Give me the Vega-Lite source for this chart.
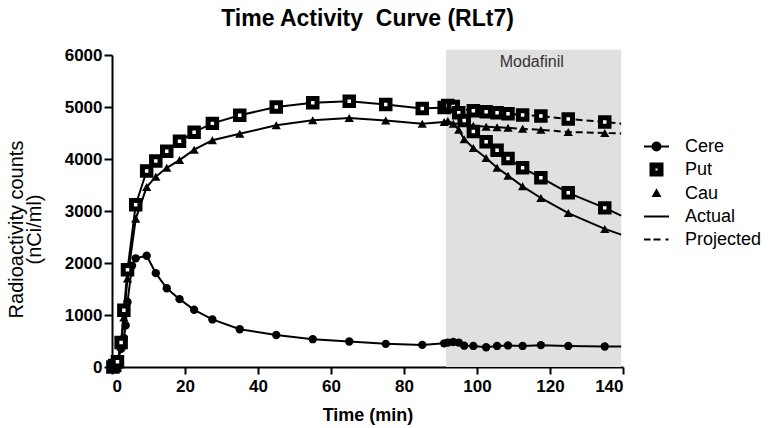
{
  "$schema": "https://vega.github.io/schema/vega-lite/v6.json",
  "autosize": "none",
  "padding": {"left": 112, "top": 55, "right": 146, "bottom": 61},
  "width": 511,
  "height": 312,
  "background": "white",
  "title": {"text": "Time Activity\u00a0 Curve (RLt7)", "font": "Liberation Sans", "fontSize": 23, "fontWeight": "bold", "color": "black", "anchor": "middle", "offset": 15},
  "config": {
    "view": {"stroke": null},
    "axis": {"domainColor": "black", "domainWidth": 2, "tickColor": "black", "tickWidth": 2, "labelColor": "black", "titleColor": "black", "labelFont": "Liberation Sans", "titleFont": "Liberation Sans", "labelFontWeight": "bold", "labelFontSize": 17, "grid": false},
    "legend": {"title": null, "orient": "none", "legendX": 531, "legendY": 78, "padding": 0, "symbolSize": 625, "symbolStrokeWidth": 2, "symbolOpacity": 1, "labelFont": "Liberation Sans", "labelFontSize": 18, "labelColor": "black", "labelOffset": 15, "rowPadding": 0}
  },
  "datasets": {
    "curves": [
      {"region":"Cere","series":"Actual","time":0.25,"value":0,"marker":1},
      {"region":"Cere","series":"Actual","time":0.75,"value":30,"marker":1},
      {"region":"Cere","series":"Actual","time":1.5,"value":110,"marker":1},
      {"region":"Cere","series":"Actual","time":2.5,"value":350,"marker":1},
      {"region":"Cere","series":"Actual","time":3.25,"value":560,"marker":1},
      {"region":"Cere","series":"Actual","time":3.75,"value":800,"marker":1},
      {"region":"Cere","series":"Actual","time":4.25,"value":1250,"marker":1},
      {"region":"Cere","series":"Actual","time":5.5,"value":1950,"marker":1},
      {"region":"Cere","series":"Actual","time":6.5,"value":2090,"marker":1},
      {"region":"Cere","series":"Actual","time":9.5,"value":2140,"marker":1},
      {"region":"Cere","series":"Actual","time":12,"value":1805,"marker":1},
      {"region":"Cere","series":"Actual","time":15,"value":1515,"marker":1},
      {"region":"Cere","series":"Actual","time":18.5,"value":1305,"marker":1},
      {"region":"Cere","series":"Actual","time":22.5,"value":1100,"marker":1},
      {"region":"Cere","series":"Actual","time":27.5,"value":915,"marker":1},
      {"region":"Cere","series":"Actual","time":35,"value":725,"marker":1},
      {"region":"Cere","series":"Actual","time":45,"value":615,"marker":1},
      {"region":"Cere","series":"Actual","time":55,"value":535,"marker":1},
      {"region":"Cere","series":"Actual","time":65,"value":490,"marker":1},
      {"region":"Cere","series":"Actual","time":75,"value":445,"marker":1},
      {"region":"Cere","series":"Actual","time":85,"value":425,"marker":1},
      {"region":"Cere","series":"Actual","time":91,"value":455,"marker":1},
      {"region":"Cere","series":"Actual","time":92,"value":470,"marker":1},
      {"region":"Cere","series":"Actual","time":93.5,"value":480,"marker":1},
      {"region":"Cere","series":"Actual","time":95,"value":470,"marker":1},
      {"region":"Cere","series":"Actual","time":96.5,"value":410,"marker":1},
      {"region":"Cere","series":"Actual","time":99,"value":405,"marker":1},
      {"region":"Cere","series":"Actual","time":102.5,"value":380,"marker":1},
      {"region":"Cere","series":"Actual","time":105.5,"value":405,"marker":1},
      {"region":"Cere","series":"Actual","time":108.5,"value":415,"marker":1},
      {"region":"Cere","series":"Actual","time":112.5,"value":405,"marker":1},
      {"region":"Cere","series":"Actual","time":117.5,"value":420,"marker":1},
      {"region":"Cere","series":"Actual","time":125,"value":405,"marker":1},
      {"region":"Cere","series":"Actual","time":135,"value":395,"marker":1},
      {"region":"Cere","series":"Actual","time":139.5,"value":395,"marker":0},
      {"region":"Put","series":"Actual","time":0.25,"value":0,"marker":1},
      {"region":"Put","series":"Actual","time":0.75,"value":30,"marker":1},
      {"region":"Put","series":"Actual","time":1.5,"value":100,"marker":1},
      {"region":"Put","series":"Actual","time":2.5,"value":470,"marker":1},
      {"region":"Put","series":"Actual","time":3.25,"value":1090,"marker":1},
      {"region":"Put","series":"Actual","time":4.25,"value":1870,"marker":1},
      {"region":"Put","series":"Actual","time":6.5,"value":3120,"marker":1},
      {"region":"Put","series":"Actual","time":9.5,"value":3770,"marker":1},
      {"region":"Put","series":"Actual","time":12,"value":3960,"marker":1},
      {"region":"Put","series":"Actual","time":15,"value":4150,"marker":1},
      {"region":"Put","series":"Actual","time":18.5,"value":4340,"marker":1},
      {"region":"Put","series":"Actual","time":22.5,"value":4515,"marker":1},
      {"region":"Put","series":"Actual","time":27.5,"value":4685,"marker":1},
      {"region":"Put","series":"Actual","time":35,"value":4840,"marker":1},
      {"region":"Put","series":"Actual","time":45,"value":5000,"marker":1},
      {"region":"Put","series":"Actual","time":55,"value":5080,"marker":1},
      {"region":"Put","series":"Actual","time":65,"value":5110,"marker":1},
      {"region":"Put","series":"Actual","time":75,"value":5050,"marker":1},
      {"region":"Put","series":"Actual","time":85,"value":4970,"marker":1},
      {"region":"Put","series":"Actual","time":91,"value":4990,"marker":1},
      {"region":"Put","series":"Actual","time":92,"value":5030,"marker":1},
      {"region":"Put","series":"Actual","time":93.5,"value":5010,"marker":1},
      {"region":"Put","series":"Actual","time":95,"value":4890,"marker":1},
      {"region":"Put","series":"Actual","time":96.5,"value":4740,"marker":1},
      {"region":"Put","series":"Actual","time":99,"value":4530,"marker":1},
      {"region":"Put","series":"Actual","time":102.5,"value":4330,"marker":1},
      {"region":"Put","series":"Actual","time":105.5,"value":4170,"marker":1},
      {"region":"Put","series":"Actual","time":108.5,"value":4010,"marker":1},
      {"region":"Put","series":"Actual","time":112.5,"value":3830,"marker":1},
      {"region":"Put","series":"Actual","time":117.5,"value":3640,"marker":1},
      {"region":"Put","series":"Actual","time":125,"value":3350,"marker":1},
      {"region":"Put","series":"Actual","time":135,"value":3060,"marker":1},
      {"region":"Put","series":"Actual","time":139.5,"value":2910,"marker":0},
      {"region":"Cau","series":"Actual","time":0.25,"value":0,"marker":1},
      {"region":"Cau","series":"Actual","time":0.75,"value":25,"marker":1},
      {"region":"Cau","series":"Actual","time":1.5,"value":90,"marker":1},
      {"region":"Cau","series":"Actual","time":2.5,"value":400,"marker":1},
      {"region":"Cau","series":"Actual","time":3.25,"value":950,"marker":1},
      {"region":"Cau","series":"Actual","time":4.25,"value":1700,"marker":1},
      {"region":"Cau","series":"Actual","time":6.5,"value":2850,"marker":1},
      {"region":"Cau","series":"Actual","time":9.5,"value":3460,"marker":1},
      {"region":"Cau","series":"Actual","time":12,"value":3660,"marker":1},
      {"region":"Cau","series":"Actual","time":15,"value":3830,"marker":1},
      {"region":"Cau","series":"Actual","time":18.5,"value":3980,"marker":1},
      {"region":"Cau","series":"Actual","time":22.5,"value":4180,"marker":1},
      {"region":"Cau","series":"Actual","time":27.5,"value":4360,"marker":1},
      {"region":"Cau","series":"Actual","time":35,"value":4485,"marker":1},
      {"region":"Cau","series":"Actual","time":45,"value":4650,"marker":1},
      {"region":"Cau","series":"Actual","time":55,"value":4745,"marker":1},
      {"region":"Cau","series":"Actual","time":65,"value":4790,"marker":1},
      {"region":"Cau","series":"Actual","time":75,"value":4740,"marker":1},
      {"region":"Cau","series":"Actual","time":85,"value":4680,"marker":1},
      {"region":"Cau","series":"Actual","time":91,"value":4710,"marker":1},
      {"region":"Cau","series":"Actual","time":92,"value":4730,"marker":1},
      {"region":"Cau","series":"Actual","time":93.5,"value":4680,"marker":1},
      {"region":"Cau","series":"Actual","time":95,"value":4560,"marker":1},
      {"region":"Cau","series":"Actual","time":96.5,"value":4380,"marker":1},
      {"region":"Cau","series":"Actual","time":99,"value":4210,"marker":1},
      {"region":"Cau","series":"Actual","time":102.5,"value":4020,"marker":1},
      {"region":"Cau","series":"Actual","time":105.5,"value":3830,"marker":1},
      {"region":"Cau","series":"Actual","time":108.5,"value":3680,"marker":1},
      {"region":"Cau","series":"Actual","time":112.5,"value":3475,"marker":1},
      {"region":"Cau","series":"Actual","time":117.5,"value":3250,"marker":1},
      {"region":"Cau","series":"Actual","time":125,"value":2960,"marker":1},
      {"region":"Cau","series":"Actual","time":135,"value":2655,"marker":1},
      {"region":"Cau","series":"Actual","time":139.5,"value":2545,"marker":0},
      {"region":"Put","series":"Projected","time":91,"value":4990,"marker":0},
      {"region":"Put","series":"Projected","time":99,"value":4930,"marker":1},
      {"region":"Put","series":"Projected","time":102.5,"value":4910,"marker":1},
      {"region":"Put","series":"Projected","time":105.5,"value":4890,"marker":1},
      {"region":"Put","series":"Projected","time":108.5,"value":4870,"marker":1},
      {"region":"Put","series":"Projected","time":112.5,"value":4845,"marker":1},
      {"region":"Put","series":"Projected","time":117.5,"value":4825,"marker":1},
      {"region":"Put","series":"Projected","time":125,"value":4770,"marker":1},
      {"region":"Put","series":"Projected","time":135,"value":4710,"marker":1},
      {"region":"Put","series":"Projected","time":139.5,"value":4680,"marker":0},
      {"region":"Cau","series":"Projected","time":91,"value":4710,"marker":0},
      {"region":"Cau","series":"Projected","time":99,"value":4640,"marker":1},
      {"region":"Cau","series":"Projected","time":102.5,"value":4620,"marker":1},
      {"region":"Cau","series":"Projected","time":105.5,"value":4610,"marker":1},
      {"region":"Cau","series":"Projected","time":108.5,"value":4600,"marker":1},
      {"region":"Cau","series":"Projected","time":112.5,"value":4580,"marker":1},
      {"region":"Cau","series":"Projected","time":117.5,"value":4560,"marker":1},
      {"region":"Cau","series":"Projected","time":125,"value":4520,"marker":1},
      {"region":"Cau","series":"Projected","time":135,"value":4500,"marker":1},
      {"region":"Cau","series":"Projected","time":139.5,"value":4490,"marker":0}
    ]
  },
  "layer": [
    {
      "data": {"values": [{"drug": "Modafinil", "start": 91.5, "end": 139.5, "low": 0, "high": 6100}]},
      "mark": {"type": "rect", "color": "#e0e0e0"},
      "encoding": {
        "x": {"field": "start", "type": "quantitative", "scale": {"domain": [0, 140], "nice": false}, "axis": {"values": [0, 20, 40, 60, 80, 100, 120, 140], "tickSize": 7, "labelPadding": 4, "title": "Time (min)", "titleFontSize": 18, "titleFontWeight": "bold", "titlePadding": 12}},
        "x2": {"field": "end"},
        "y": {"field": "low", "type": "quantitative", "scale": {"domain": [0, 6000], "nice": false}, "axis": {"values": [0, 1000, 2000, 3000, 4000, 5000, 6000], "format": "d", "tickSize": 8, "labelPadding": 2, "title": ["Radioactivity counts", "(nCi/ml)"], "titleFontSize": 20, "titleFontWeight": "normal", "titleLineHeight": 18, "titlePadding": 20, "titleY": 174}},
        "y2": {"field": "high"}
      }
    },
    {
      "data": {"values": [{"drug": "Modafinil", "time": 115, "value": 5870}]},
      "mark": {"type": "text", "font": "Liberation Sans", "fontSize": 16, "color": "#333333"},
      "encoding": {
        "x": {"field": "time", "type": "quantitative"},
        "y": {"field": "value", "type": "quantitative"},
        "text": {"field": "drug"}
      }
    },
    {
      "data": {"name": "curves"},
      "transform": [{"filter": "datum.series == 'Actual'"}],
      "mark": {"type": "line", "color": "black", "strokeWidth": 2},
      "encoding": {
        "x": {"field": "time", "type": "quantitative"},
        "y": {"field": "value", "type": "quantitative"},
        "detail": {"field": "region"}
      }
    },
    {
      "data": {"name": "curves"},
      "transform": [{"filter": "datum.series == 'Projected'"}],
      "mark": {"type": "line", "color": "black", "strokeWidth": 2, "strokeDash": [7, 4]},
      "encoding": {
        "x": {"field": "time", "type": "quantitative"},
        "y": {"field": "value", "type": "quantitative"},
        "detail": {"field": "region"}
      }
    },
    {
      "data": {"name": "curves"},
      "transform": [{"filter": "datum.region == 'Cere' && datum.marker == 1"}],
      "mark": {"type": "point", "shape": "circle", "filled": true, "color": "black", "opacity": 1, "size": 70},
      "encoding": {
        "x": {"field": "time", "type": "quantitative"},
        "y": {"field": "value", "type": "quantitative"}
      }
    },
    {
      "data": {"name": "curves"},
      "transform": [{"filter": "datum.region == 'Cau' && datum.marker == 1"}],
      "mark": {"type": "point", "shape": "triangle-up", "filled": true, "color": "black", "opacity": 1, "size": 85},
      "encoding": {
        "x": {"field": "time", "type": "quantitative"},
        "y": {"field": "value", "type": "quantitative"}
      }
    },
    {
      "data": {"name": "curves"},
      "transform": [{"filter": "datum.region == 'Put' && datum.marker == 1"}],
      "mark": {"type": "point", "shape": "square", "filled": false, "fill": "white", "fillOpacity": 1, "stroke": "black", "strokeWidth": 5, "opacity": 1, "size": 72},
      "encoding": {
        "x": {"field": "time", "type": "quantitative"},
        "y": {"field": "value", "type": "quantitative"}
      }
    },
    {
      "data": {"values": [{"entry": "Cere"}, {"entry": "Put"}, {"entry": "Cau"}, {"entry": "Actual"}, {"entry": "Projected"}]},
      "mark": {"type": "point", "opacity": 0, "strokeWidth": 2},
      "encoding": {
        "shape": {
          "field": "entry", "type": "nominal",
          "scale": {
            "domain": ["Cere", "Put", "Cau", "Actual", "Projected"],
            "range": [
              "M-1,0H1M0.32,0A0.32,0.32,0,1,1,-0.32,0A0.32,0.32,0,1,1,0.32,0Z",
              "M-0.48,-0.48H0.48V0.48H-0.48ZM-0.16,-0.16V0.16H0.16V-0.16Z",
              "M0,-0.26L0.26,0.2L-0.26,0.2Z",
              "M-1,0H1",
              "M-1,0H-0.48M-0.24,0H0.32M0.72,0H0.96"
            ]
          }
        },
        "fill": {
          "field": "entry", "type": "nominal",
          "scale": {"domain": ["Cere", "Put", "Cau", "Actual", "Projected"], "range": ["black", "black", "black", "transparent", "transparent"]}
        },
        "stroke": {
          "field": "entry", "type": "nominal",
          "scale": {"domain": ["Cere", "Put", "Cau", "Actual", "Projected"], "range": ["black", "black", "black", "black", "black"]}
        }
      }
    }
  ]
}
